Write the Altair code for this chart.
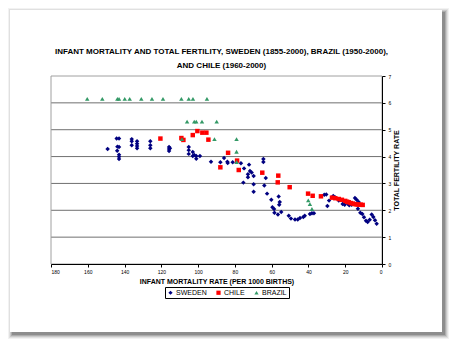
import altair as alt
import pandas as pd

# Sweden (1855-2000): infant mortality (per 1000) vs total fertility
sweden_imr = [149.2, 144.3, 143.0, 143.9, 143.0, 144.0, 143.0, 143.0, 143.0,
              136.1, 136.1, 136.1, 133.2, 133.2, 133.2, 133.2, 126.0, 126.0, 126.0,
              115.8, 115.8, 115.8, 115.3, 105.1, 105.1, 105.1, 102.9, 102.9, 102.1,
              101.0, 101.0, 99.0, 93.0, 87.9, 85.9, 83.9, 81.2, 84.1, 76.7, 75.4,
              75.0, 72.9, 72.3, 71.8, 70.9, 69.8, 69.8, 69.8, 72.9, 64.5, 64.5,
              63.2, 64.0, 62.5, 60.2, 59.6, 58.7, 58.5, 56.6, 56.2, 55.9, 55.6,
              54.8, 50.7, 49.5, 47.3, 45.8, 44.6, 42.8, 42.0, 39.2, 38.1, 37.0,
              31.4, 30.3, 29.7, 28.8, 26.5, 25.4, 23.5, 21.4, 20.3, 18.7, 17.8,
              16.5, 14.7, 13.8, 12.7, 13.1, 11.8, 10.7, 9.8, 8.7, 7.8, 6.7, 5.6,
              4.7, 3.8, 2.9]
sweden_tfr = [4.28, 4.67, 4.67, 4.37, 4.36, 4.22, 4.07, 3.99, 3.91,
              4.65, 4.57, 4.42, 4.57, 4.48, 4.39, 4.31, 4.57, 4.42, 4.31,
              4.36, 4.28, 4.21, 4.31, 4.36, 4.24, 4.10, 4.17, 4.02, 4.06,
              4.02, 3.92, 4.02, 3.81, 3.79, 3.95, 3.76, 3.79, 3.81, 3.75, 3.03,
              3.56, 3.34, 3.70, 3.46, 3.41, 3.28, 2.97, 2.69, 3.23, 3.91, 3.80,
              3.20, 2.92, 2.62, 2.39, 2.11, 2.05, 1.91, 1.84, 2.51, 2.21, 2.31,
              1.94, 1.80, 1.69, 1.66, 1.66, 1.71, 1.75, 1.80, 1.86, 1.89, 1.89,
              2.58, 2.59, 2.16, 2.36, 2.53, 2.48, 2.36, 2.23, 2.21, 2.25, 2.19,
              2.21, 2.46, 2.39, 2.31, 2.06, 1.91, 1.86, 1.74, 1.61, 1.56, 1.65, 1.84,
              1.75, 1.63, 1.50]

# Chile (1960-2000)
chile_imr = [120.5, 109.1, 108.0, 102.9, 100.4, 97.7, 95.5, 94.4, 83.7, 87.9,
             78.8, 77.9, 65.1, 56.4, 56.7, 50.2, 40.2, 37.7, 33.2, 27.2, 25.4,
             23.5, 21.8, 20.0, 19.0, 18.1, 17.0, 15.9, 14.8, 13.8, 12.7, 11.6, 10.5]
chile_tfr = [4.67, 4.69, 4.62, 4.80, 4.95, 4.89, 4.89, 4.63, 4.14, 3.60,
             3.85, 3.50, 3.40, 3.29, 3.04, 2.86, 2.62, 2.54, 2.52, 2.47, 2.45,
             2.42, 2.39, 2.35, 2.32, 2.30, 2.27, 2.25, 2.23, 2.22, 2.21, 2.21, 2.20]

# Brazil (1950-2000)
brazil_imr = [160.3, 152.1, 143.9, 143.0, 139.9, 137.2, 130.9, 125.1, 119.1,
              109.1, 105.1, 102.8, 95.2, 106.0, 102.1, 101.0, 97.9, 89.9,
              108.8, 91.1, 79.1, 79.1, 79.1, 40.1, 39.2, 38.1]
brazil_tfr = [6.15, 6.15, 6.15, 6.15, 6.15, 6.15, 6.15, 6.15, 6.15,
              6.15, 6.15, 6.15, 6.15, 5.3, 5.3, 5.3, 5.3, 5.3,
              4.65, 4.65, 4.65, 4.18, 3.8, 2.37, 2.23, 2.05]

series = ["SWEDEN", "CHILE", "BRAZIL"]
colors = ["#000080", "#ff0000", "#339966"]
shapes = ["diamond", "square", "triangle-up"]

title_lines = ["INFANT MORTALITY AND TOTAL FERTILITY, SWEDEN (1855-2000), BRAZIL (1950-2000),",
               "AND CHILE (1960-2000)"]
y_ticks = [0, 1, 2, 3, 4, 5, 6, 7]
grid_values = [1, 2, 3, 4, 5, 6]
x_ticks = [0, 20, 40, 60, 80, 100, 120, 140, 160, 180]

df = pd.concat([
    pd.DataFrame({"imr": sweden_imr, "tfr": sweden_tfr, "country": "SWEDEN"}),
    pd.DataFrame({"imr": chile_imr, "tfr": chile_tfr, "country": "CHILE"}),
    pd.DataFrame({"imr": brazil_imr, "tfr": brazil_tfr, "country": "BRAZIL"}),
], ignore_index=True)

FONT = "Liberation Sans"
W, H = 331, 188

one = alt.Data(values=[{"a": 1}])

# decorative drop-shadow frame around the chart
shadow_layers = []
for i, op in enumerate([0.05, 0.07, 0.10, 0.14, 0.18]):
    d = 4 - i
    shadow_layers.append(
        alt.Chart(one).mark_rect(fill="#000000", opacity=op).encode(
            x=alt.value(-41 - d + 2), x2=alt.value(391 + d + 3),
            y=alt.value(-66 - d + 2), y2=alt.value(256 + d + 3)))
frame = alt.Chart(one).mark_rect(fill="white").encode(
    x=alt.value(-41), x2=alt.value(391), y=alt.value(-66), y2=alt.value(256))

# chart title (two lines)
title_layers = [
    alt.Chart(alt.Data(values=[{"t": title_lines[0]}])).mark_text(
        font=FONT, fontSize=8, fontWeight="bold", color="#000", align="center", baseline="alphabetic"
    ).encode(text="t:N", x=alt.value(W / 2 + 5), y=alt.value(-22.5)),
    alt.Chart(alt.Data(values=[{"t": title_lines[1]}])).mark_text(
        font=FONT, fontSize=8, fontWeight="bold", color="#000", align="center", baseline="alphabetic"
    ).encode(text="t:N", x=alt.value(W / 2 + 5), y=alt.value(-8.5)),
]

y_scale = alt.Scale(domain=[0, 7], nice=False)
y_axis = alt.Axis(orient="right", values=y_ticks, title="TOTAL FERTILITY RATE",
                  grid=False, domainColor="#000", tickColor="#000", tickSize=3,
                  labelFontSize=5, labelColor="#000", labelPadding=3, labelFont=FONT,
                  labelOverlap=False, labelFlush=False,
                  titleFontSize=7, titleFont=FONT, titleFontWeight="bold",
                  titleAngle=270, titlePadding=9, zindex=1)

grid = alt.Chart(pd.DataFrame({"tfr": grid_values})).mark_rule(
    color="#707070", strokeWidth=1).encode(y=alt.Y("tfr:Q", scale=y_scale, axis=y_axis))

border = alt.Chart(one).mark_rect(fill=None, stroke="#a0a0a0", strokeWidth=1).encode(
    x=alt.value(0), x2=alt.value(W), y=alt.value(0), y2=alt.value(H))

legend = alt.Legend(title=None, orient="none", legendX=114, legendY=211,
                    direction="horizontal", labelFontSize=7, labelFont=FONT,
                    symbolSize=18, strokeColor="#000", padding=2, columnPadding=8,
                    labelOffset=2, fillColor="white", labelColor="#000", zindex=2)

points = alt.Chart(df).mark_point(filled=True, opacity=1, size=20).encode(
    x=alt.X("imr:Q", scale=alt.Scale(domain=[0, 180], reverse=True, nice=False),
            axis=alt.Axis(values=x_ticks, title="INFANT MORTALITY RATE (PER 1000 BIRTHS)",
                          grid=False, domainColor="#000", tickColor="#000", tickSize=3,
                          labelFontSize=5, labelColor="#000", labelPadding=2, labelOverlap=False,
                          titleFontSize=7, titleFont=FONT, titleFontWeight="bold",
                          titlePadding=3, labelFont=FONT, zindex=1)),
    y=alt.Y("tfr:Q", scale=y_scale, axis=y_axis),
    color=alt.Color("country:N", scale=alt.Scale(domain=series, range=colors), legend=legend),
    shape=alt.Shape("country:N", scale=alt.Scale(domain=series, range=shapes), legend=legend),
)

chart = alt.layer(*shadow_layers, frame, *title_layers, grid, border, points).properties(
    width=W, height=H,
    autosize=alt.AutoSizeParams(type="none"),
    padding={"left": 51, "top": 76, "right": 70, "bottom": 78},
).configure_view(stroke=None).configure(background="white")

chart.save("out.html", embed_options={"renderer": "svg", "actions": False})
